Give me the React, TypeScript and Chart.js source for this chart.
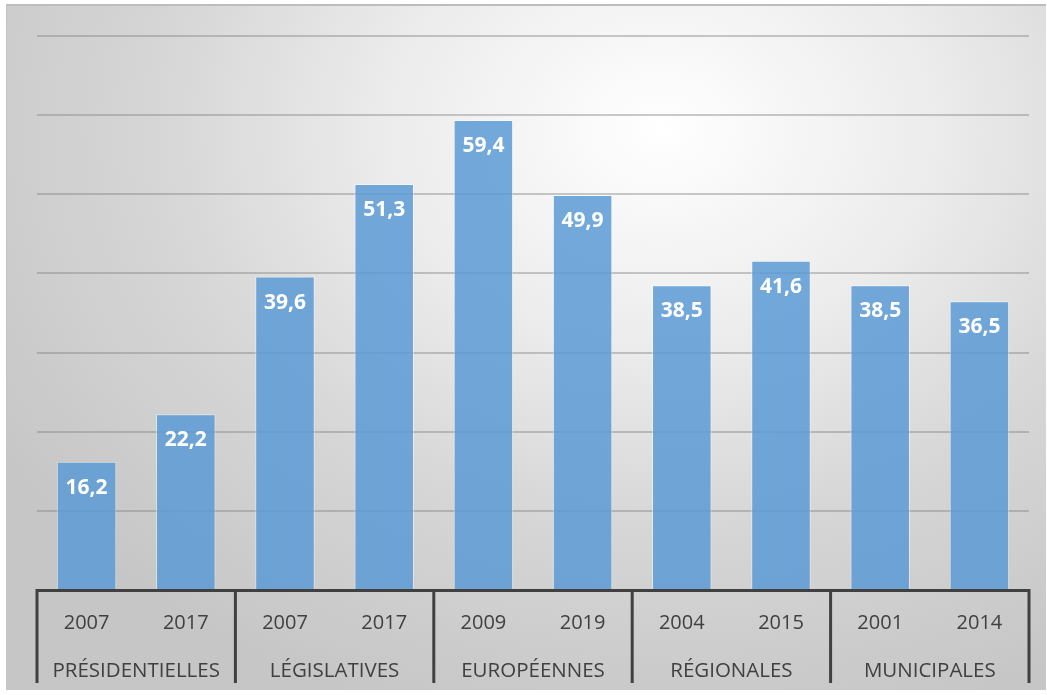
import React, { useEffect, useRef } from "react";
import { Chart, registerables } from "chart.js";

Chart.register(...registerables);

const years = ["2007", "2017", "2007", "2017", "2009", "2019", "2004", "2015", "2001", "2014"];
const groups = ["PRÉSIDENTIELLES", "LÉGISLATIVES", "EUROPÉENNES", "RÉGIONALES", "MUNICIPALES"];
const values = [16.2, 22.2, 39.6, 51.3, 59.4, 49.9, 38.5, 41.6, 38.5, 36.5];
const perGroup = 2;

const FONT = "'Open Sans', 'Liberation Sans', sans-serif";

const dataLabels = {
  id: "dataLabels",
  afterDatasetsDraw(chart: any) {
    const ctx = chart.ctx;
    const meta = chart.getDatasetMeta(0);
    ctx.save();
    ctx.fillStyle = "#ffffff";
    ctx.font = `bold 21px ${FONT}`;
    ctx.textAlign = "center";
    ctx.textBaseline = "middle";
    meta.data.forEach((bar: any, i: number) => {
      const v = values[i];
      ctx.fillText(v.toFixed(1).replace(".", ","), bar.x, bar.y + 26);
    });
    ctx.restore();
  },
};

const separators = {
  id: "separators",
  afterDraw(chart: any) {
    const ctx = chart.ctx;
    const x = chart.scales.x;
    const area = chart.chartArea;
    const xs: number[] = [area.left];
    for (let g = 1; g < groups.length; g++) {
      const i = g * perGroup;
      xs.push((x.getPixelForValue(i - 1) + x.getPixelForValue(i)) / 2);
    }
    xs.push(area.right);
    ctx.save();
    ctx.strokeStyle = "#404040";
    ctx.lineWidth = 3;
    ctx.beginPath();
    xs.forEach((px) => {
      ctx.moveTo(px, area.bottom - 1);
      ctx.lineTo(px, chart.height - 7);
    });
    ctx.stroke();
    ctx.restore();
  },
};

export default function App() {
  const ref = useRef<HTMLCanvasElement>(null);
  useEffect(() => {
    if (!ref.current) return;
    const chart = new Chart(ref.current, {
      type: "bar",
      data: {
        labels: years,
        datasets: [
          {
            data: values,
            backgroundColor: "rgba(91,155,213,0.85)",
            borderColor: "rgba(255,255,255,0.45)",
            borderWidth: 1,
            categoryPercentage: 1,
            barPercentage: 0.6,
          },
        ],
      },
      options: {
        animation: false,
        responsive: false,
        maintainAspectRatio: false,
        layout: { padding: { left: 30, right: 17, top: 30, bottom: 0 } },
        plugins: { legend: { display: false }, tooltip: { enabled: false } },
        scales: {
          y: {
            min: 0,
            max: 70,
            ticks: { display: false, stepSize: 10 },
            border: { display: false },
            grid: { color: "rgba(128,128,128,0.42)", lineWidth: 2, drawTicks: false },
            afterFit: (s: any) => {
              s.width = 0;
            },
          },
          x: {
            position: "bottom",
            grid: { display: false, drawTicks: false },
            border: { display: true, color: "#404040", width: 3 },
            ticks: {
              color: "#404040",
              font: { family: FONT, size: 20 },
              padding: 21,
              autoSkip: false,
              maxRotation: 0,
            },
            afterFit: (s: any) => {
              s.height = 46;
            },
          },
          group: {
            type: "category",
            position: "bottom",
            labels: groups,
            offset: true,
            grid: { display: false, drawTicks: false },
            border: { display: false },
            ticks: {
              color: "#404040",
              font: { family: FONT, size: 20.5 },
              padding: 23,
              autoSkip: false,
              maxRotation: 0,
            },
            afterFit: (s: any) => {
              s.height = 54;
            },
          },
        },
      } as any,
      plugins: [dataLabels, separators],
    });
    return () => chart.destroy();
  }, []);

  return (
    <div
      style={{
        position: "absolute",
        left: 6,
        top: 4,
        width: 1040,
        height: 686,
        boxSizing: "border-box",
        borderTop: "2px solid #bdbdbd",
        borderLeft: "1px solid #c4c4c4",
        background:
          "radial-gradient(ellipse 75% 90% at 63% 18%, #ffffff 0%, #ececec 35%, #d6d6d6 65%, #c6c6c6 100%)",
      }}
    >
      <canvas ref={ref} width={1039} height={684} style={{ display: "block" }} />
    </div>
  );
}
